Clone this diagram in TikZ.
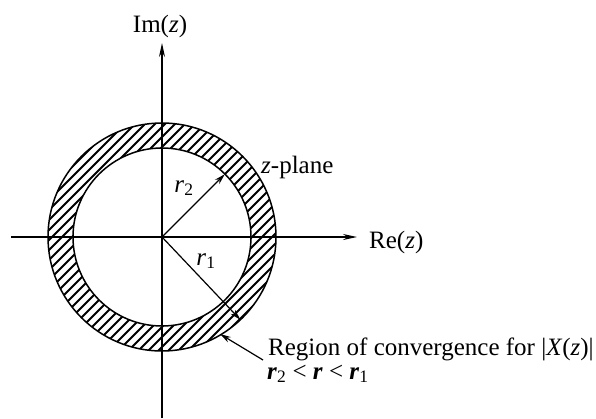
\documentclass[tikz,border=0pt]{standalone}
\usepackage{fontspec}
\setmainfont{Liberation Serif}
\usetikzlibrary{arrows.meta}
\begin{document}
\begin{tikzpicture}[x=1pt,y=-1pt,
  lbl/.style={font=\fontsize{25}{28}\selectfont, inner sep=0pt},
  axisline/.style={line width=1.3pt,-{Stealth[length=14pt,width=6pt]}},
  arr/.style={line width=1.2pt,-{Stealth[length=11pt,width=6pt]}},
  ring/.style={line width=1.5pt},
  hatch/.style={line width=1.8pt}]
\useasboundingbox (0,0) rectangle (596,418);
\coordinate (O) at (162,237);
% hatching of the annulus
\begin{scope}[even odd rule]
  \clip (O) circle[radius=114] (O) circle[radius=89];
  \foreach \k in {-300,-290,...,300}
    \draw[hatch] (162+\k-160,237+160) -- (162+\k+160,237-160);
\end{scope}
\draw[ring] (O) circle[radius=114];
\draw[ring] (O) circle[radius=89];
% axes
\coordinate (xl) at (11,237);
\coordinate (xr) at (357,237);
\coordinate (yb) at (162,418);
\coordinate (yt) at (162,43);
\draw[axisline] (xl) -- (xr);
\draw[axisline] (yb) -- (yt);
% radii
\coordinate (p2) at (224.9,174.1);
\coordinate (p1) at (240.5,319.9);
\draw[arr] (O) -- (p2);
\draw[arr] (O) -- (p1);
% ROC pointer
\coordinate (rt) at (263,360);
\coordinate (rh) at (220,334);
\draw[arr] (rt) -- (rh);
% labels
\node[lbl, anchor=base] (im) at (160,32) {Im(\textit{z})};
\node[lbl, anchor=base west] (re) at (369,248) {Re(\textit{z})};
\node[lbl, anchor=base west] (zp) at (261,173) {\textit{z}-plane};
\node[lbl, anchor=base] (r2) at (184,192) {\textit{r}\textsubscript{2}};
\node[lbl, anchor=base] (r1) at (206,265) {\textit{r}\textsubscript{1}};
\node[lbl, anchor=base west] (roc) at (268,355) {Region of convergence for |\textit{X}(\textit{z})|};
\node[lbl, anchor=base west] (ineq) at (267,379) {\textbf{\textit{r}}\textsubscript{2} < \textbf{\textit{r}} < \textbf{\textit{r}}\textsubscript{1}};
\end{tikzpicture}
\end{document}
